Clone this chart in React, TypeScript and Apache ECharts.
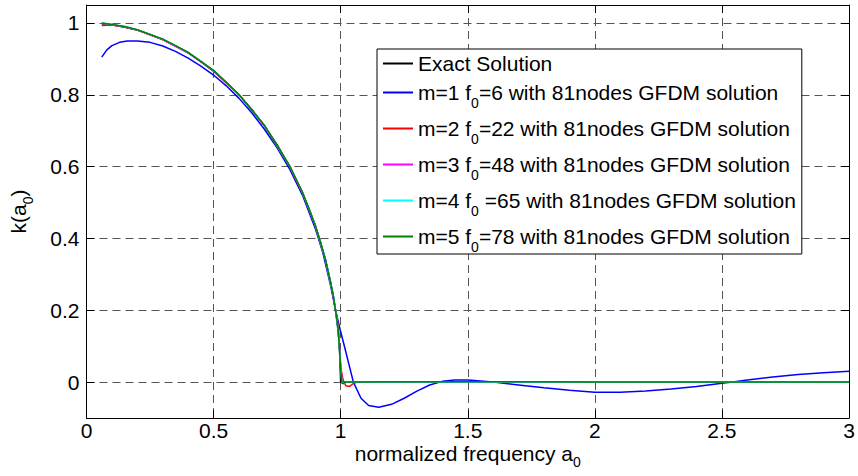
import React, { useEffect, useRef } from "react";
import * as echarts from "echarts";

const FONT = '"Liberation Sans", Arial, Helvetica, sans-serif';

// x-axis ticks (normalized frequency a0)
const xTicks = [0, 0.5, 1, 1.5, 2, 2.5, 3];
// y-axis ticks k(a0)
const yTicks = [0, 0.2, 0.4, 0.6, 0.8, 1];

const seriesNames = [
  "Exact Solution",
  "m=1 f0=6 with 81nodes GFDM solution",
  "m=2 f0=22 with 81nodes GFDM solution",
  "m=3 f0=48 with 81nodes GFDM solution",
  "m=4 f0 =65 with 81nodes GFDM solution",
  "m=5 f0=78 with 81nodes GFDM solution",
];
const seriesColors = ["#000000", "#0000ff", "#ff0000", "#ff00ff", "#00ffff", "#008000"];

// Exact solution
const exactX = [0.06, 0.1, 0.15, 0.2, 0.25, 0.3, 0.35, 0.4, 0.45, 0.5, 0.55, 0.6, 0.65, 0.7, 0.75, 0.8, 0.85, 0.88, 0.9, 0.92, 0.94, 0.96, 0.97, 0.98, 0.99, 0.995, 1.0, 1.5, 2.0, 2.5, 3.0];
const exactY = [0.998, 0.995, 0.989, 0.98, 0.968, 0.954, 0.937, 0.917, 0.893, 0.866, 0.835, 0.8, 0.76, 0.714, 0.661, 0.6, 0.527, 0.475, 0.436, 0.392, 0.341, 0.28, 0.243, 0.199, 0.141, 0.1, 0, 0, 0, 0, 0];

// m=1
const m1X = [0.06, 0.08, 0.1, 0.13, 0.16, 0.2, 0.25, 0.3, 0.35, 0.4, 0.45, 0.5, 0.55, 0.6, 0.65, 0.7, 0.75, 0.8, 0.85, 0.9, 0.93, 0.96, 0.98, 1.0, 1.02, 1.05, 1.08, 1.11, 1.15, 1.2, 1.25, 1.3, 1.35, 1.4, 1.45, 1.5, 1.55, 1.6, 1.7, 1.8, 1.9, 2.0, 2.1, 2.2, 2.3, 2.4, 2.5, 2.55, 2.6, 2.7, 2.8, 2.9, 3.0];
const m1Y = [0.905, 0.925, 0.937, 0.946, 0.95, 0.95, 0.946, 0.936, 0.921, 0.902, 0.88, 0.855, 0.825, 0.79, 0.75, 0.704, 0.652, 0.592, 0.52, 0.428, 0.36, 0.27, 0.2, 0.14, 0.085, 0.0, -0.045, -0.065, -0.07, -0.062, -0.045, -0.025, -0.008, 0.002, 0.006, 0.006, 0.003, 0.0, -0.008, -0.016, -0.023, -0.028, -0.028, -0.025, -0.019, -0.012, -0.003, 0.001, 0.006, 0.014, 0.021, 0.026, 0.03];

// m=2
const m2X = [0.06, 0.1, 0.15, 0.2, 0.3, 0.4, 0.5, 0.6, 0.7, 0.8, 0.85, 0.9, 0.94, 0.97, 0.98, 0.99, 0.995, 1.0, 1.01, 1.02, 1.035, 1.05, 1.065, 1.5, 2.0, 2.5, 3.0];
const m2Y = [0.993, 0.994, 0.988, 0.98, 0.954, 0.917, 0.866, 0.8, 0.714, 0.6, 0.527, 0.436, 0.341, 0.243, 0.199, 0.16, 0.1, 0.04, 0.005, -0.01, -0.012, -0.004, 0, 0, 0, 0, 0];

// m=3
const m3X = [0.06, 0.1, 0.15, 0.2, 0.3, 0.4, 0.5, 0.6, 0.7, 0.8, 0.85, 0.9, 0.94, 0.97, 0.98, 0.99, 1.0, 1.005, 1.01, 1.02, 1.5, 2.0, 2.5, 3.0];
const m3Y = [0.999, 0.995, 0.989, 0.98, 0.954, 0.917, 0.867, 0.8, 0.714, 0.6, 0.527, 0.436, 0.341, 0.244, 0.2, 0.15, 0.05, 0.0, -0.004, 0, 0, 0, 0, 0];

// m=4
const m4X = [0.06, 0.1, 0.15, 0.2, 0.3, 0.4, 0.5, 0.6, 0.7, 0.8, 0.85, 0.9, 0.94, 0.97, 0.98, 0.99, 1.0, 1.005, 1.01, 1.02, 1.5, 2.0, 2.5, 3.0];
const m4Y = [1.0, 0.996, 0.99, 0.981, 0.955, 0.918, 0.868, 0.801, 0.715, 0.601, 0.528, 0.437, 0.342, 0.245, 0.2, 0.15, 0.045, -0.002, -0.004, 0, 0, 0, 0, 0];

// m=5
const m5X = [0.06, 0.1, 0.15, 0.2, 0.3, 0.4, 0.5, 0.6, 0.7, 0.8, 0.85, 0.9, 0.94, 0.97, 0.98, 0.99, 1.0, 1.005, 1.01, 1.02, 1.5, 2.0, 2.5, 3.0];
const m5Y = [1.0, 0.996, 0.99, 0.981, 0.955, 0.918, 0.868, 0.801, 0.715, 0.601, 0.528, 0.437, 0.342, 0.245, 0.2, 0.15, 0.04, -0.003, -0.004, 0, 0.001, 0, 0, 0];

const seriesX = [exactX, m1X, m2X, m3X, m4X, m5X];
const seriesY = [exactY, m1Y, m2Y, m3Y, m4Y, m5Y];

const subStyle = {
  fontSize: 14,
  fontFamily: FONT,
  color: "#000",
  lineHeight: 35,
  verticalAlign: "bottom",
};

export default function App() {
  const ref = useRef<HTMLDivElement>(null);
  useEffect(() => {
    if (!ref.current) return;
    const chart = echarts.init(ref.current, null, { renderer: "svg" });
    const axisLineStyle = { color: "#000", width: 1 };
    const gridLine = { show: true, lineStyle: { color: "#555", type: [8, 5], width: 1 } };
    const option: any = {
      animation: false,
      backgroundColor: "#fff",
      grid: { left: 81, right: 9, top: 5, bottom: 58 },
      xAxis: [
        {
          type: "value",
          min: xTicks[0],
          max: xTicks[xTicks.length - 1],
          interval: 0.5,
          position: "bottom",
          name: "normalized frequency a{sub|0}",
          nameLocation: "middle",
          nameGap: 19,
          nameMoveOverlap: false,
          nameTextStyle: {
            fontSize: 21,
            fontFamily: FONT,
            color: "#000",
            verticalAlign: "top",
            rich: { sub: { ...subStyle, lineHeight: 32 } },
          },
          axisLine: { show: true, onZero: false, lineStyle: axisLineStyle },
          axisTick: { show: true, inside: true, length: 8, lineStyle: axisLineStyle },
          axisLabel: { fontSize: 21, fontFamily: FONT, color: "#000", margin: 2 },
          splitLine: gridLine,
        },
        {
          type: "value",
          min: xTicks[0],
          max: xTicks[xTicks.length - 1],
          interval: 0.5,
          position: "top",
          axisLine: { show: true, onZero: false, lineStyle: axisLineStyle },
          axisTick: { show: true, inside: true, length: 8, lineStyle: axisLineStyle },
          axisLabel: { show: false },
          splitLine: { show: false },
        },
      ],
      yAxis: [
        {
          type: "value",
          min: -0.1,
          max: 1.05,
          position: "left",
          name: "k(a{sub|0})",
          nameLocation: "middle",
          nameGap: 52,
          nameTextStyle: {
            fontSize: 21,
            fontFamily: FONT,
            color: "#000",
            rich: { sub: { ...subStyle, lineHeight: 32 } },
          },
          axisLine: { show: true, onZero: false, lineStyle: axisLineStyle },
          axisTick: { show: true, inside: true, length: 8, lineStyle: axisLineStyle, customValues: yTicks },
          axisLabel: { fontSize: 21, fontFamily: FONT, color: "#000", margin: 7, customValues: yTicks },
          splitLine: gridLine,
        },
        {
          type: "value",
          min: -0.1,
          max: 1.05,
          position: "right",
          axisLine: { show: true, onZero: false, lineStyle: axisLineStyle },
          axisTick: { show: true, inside: true, length: 8, lineStyle: axisLineStyle, customValues: yTicks },
          axisLabel: { show: false, customValues: yTicks },
          splitLine: { show: false },
        },
      ],
      legend: {
        orient: "vertical",
        left: 377,
        top: 49,
        padding: [4, 6, 0, 6],
        itemGap: 1,
        itemWidth: 30,
        itemHeight: 2,
        icon: "rect",
        backgroundColor: "#fff",
        borderColor: "#000",
        borderWidth: 1,
        borderRadius: 0,
        itemStyle: { borderWidth: 0 },
        textStyle: {
          fontSize: 21,
          fontFamily: FONT,
          color: "#000",
          lineHeight: 35,
          rich: { sub: subStyle },
        },
        formatter: (n: string) => n.replace("f0", "f{sub|0}"),
        data: seriesNames.map((n, i) =>
          i === 0 ? { name: n, textStyle: { lineHeight: 20 } } : { name: n }
        ),
      },
      series: seriesNames.map((name, i) => ({
        name,
        type: "line",
        xAxisIndex: 0,
        yAxisIndex: 0,
        showSymbol: false,
        symbol: "none",
        color: seriesColors[i],
        lineStyle: { color: seriesColors[i], width: 1.5 },
        data: seriesX[i].map((x, j) => [x, seriesY[i][j]]),
      })),
    };
    chart.setOption(option);
    return () => chart.dispose();
  }, []);
  return (
    <div
      ref={ref}
      style={{ position: "fixed", left: 0, top: 0, width: 858, height: 476 }}
    />
  );
}
